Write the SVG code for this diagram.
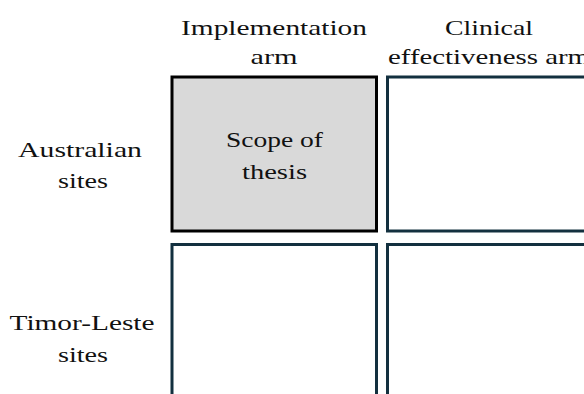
<svg xmlns="http://www.w3.org/2000/svg" width="584" height="394" viewBox="0 0 584 394">
  <style>
    .lbl { font-family: "Liberation Serif", "DejaVu Serif", serif; font-size: 22px; fill: #111; text-anchor: middle; }
    .cell { fill: #ffffff; stroke: #13303f; stroke-width: 3; }
    .scope { fill: #d9d9d9; stroke: #000000; stroke-width: 3; }
  </style>
  <rect width="584" height="394" fill="#ffffff"/>

  <!-- column headings -->
  <g id="col-implementation">
    <text class="lbl" x="274" y="35" textLength="186" lengthAdjust="spacingAndGlyphs">Implementation</text>
    <text class="lbl" x="274" y="64" textLength="47" lengthAdjust="spacingAndGlyphs">arm</text>
  </g>
  <g id="col-clinical">
    <text class="lbl" x="489" y="35" textLength="88" lengthAdjust="spacingAndGlyphs">Clinical</text>
    <text class="lbl" x="489" y="64" textLength="202" lengthAdjust="spacingAndGlyphs">effectiveness arm</text>
  </g>

  <!-- row headings -->
  <g id="row-australia">
    <text class="lbl" x="80" y="157" textLength="124" lengthAdjust="spacingAndGlyphs">Australian</text>
    <text class="lbl" x="83" y="188" textLength="50" lengthAdjust="spacingAndGlyphs">sites</text>
  </g>
  <g id="row-timor">
    <text class="lbl" x="82" y="330" textLength="145" lengthAdjust="spacingAndGlyphs">Timor-Leste</text>
    <text class="lbl" x="83" y="362" textLength="50" lengthAdjust="spacingAndGlyphs">sites</text>
  </g>

  <!-- grid cells -->
  <g id="cell-au-impl">
    <rect class="scope" x="172" y="77" width="204.5" height="154"/>
    <text class="lbl" x="274.5" y="147" textLength="97" lengthAdjust="spacingAndGlyphs">Scope of</text>
    <text class="lbl" x="274.5" y="179" textLength="65" lengthAdjust="spacingAndGlyphs">thesis</text>
  </g>
  <g id="cell-au-clin">
    <rect class="cell" x="387.5" y="77" width="220" height="154"/>
  </g>
  <g id="cell-tl-impl">
    <rect class="cell" x="172" y="244.5" width="204.5" height="170"/>
  </g>
  <g id="cell-tl-clin">
    <rect class="cell" x="387.5" y="244.5" width="220" height="170"/>
  </g>

  <g id="connectors"></g>
</svg>
